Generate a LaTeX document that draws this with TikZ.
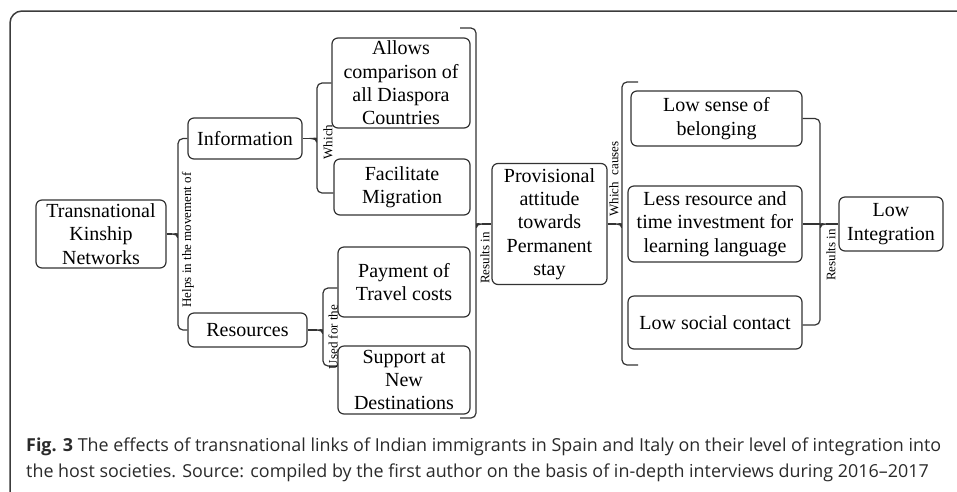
\documentclass[tikz,border=0pt]{standalone}
\usepackage{fontspec}
\setmainfont{Liberation Serif}
\newfontfamily\capfont{Open Sans}
\usetikzlibrary{calc}
\definecolor{boxc}{HTML}{333333}
\definecolor{framec}{HTML}{3C3C3C}
\definecolor{capc}{HTML}{2A2A2A}
\begin{document}
\begin{tikzpicture}[x=1pt,y=-1pt,
  box/.style={draw=boxc, line width=1.2pt, rounded corners=6pt, align=center, inner sep=0pt,
              font=\fontsize{20}{23.3}\selectfont, text=black},
  conn/.style={draw=boxc, line width=1.2pt},
  lab/.style={font=\fontsize{13}{15}\selectfont, rotate=90, inner sep=0pt, text=black},
  captext/.style={anchor=base west, inner sep=0pt, font=\capfont\fontsize{17.9}{20}\selectfont, text=capc}]

\useasboundingbox (0,0) rectangle (957,491);
\begin{scope}
\clip (0,0) rectangle (957,491);
\draw[draw=framec, line width=1.5pt, rounded corners=12pt] (10,11) rectangle (985,505);
\end{scope}

% nodes
\node[box, minimum width=130pt, minimum height=68pt] (tkn) at (101,234) {Transnational\\Kinship\\Networks};
\node[box, minimum width=114pt, minimum height=41pt] (info) at (245,138.5) {Information};
\node[box, minimum width=119pt, minimum height=34pt] (res) at (247.5,330) {Resources};
\node[box, minimum width=138pt, minimum height=90pt] (allows) at (401,83) {Allows\\comparison of\\all Diaspora\\Countries};
\node[box, minimum width=136pt, minimum height=56pt] (fac) at (402,187) {Facilitate\\Migration};
\node[box, minimum width=132pt, minimum height=70pt] (pay) at (404,282) {Payment of\\Travel costs};
\node[box, minimum width=132pt, minimum height=68pt] (sup) at (404,380) {Support at\\New\\Destinations};
\node[box, minimum width=115pt, minimum height=121pt] (prov) at (549.5,224) {Provisional\\attitude\\towards\\Permanent\\stay};
\node[box, minimum width=171pt, minimum height=55pt] (sense) at (716.5,118.5) {Low sense of\\belonging};
\node[box, minimum width=174pt, minimum height=76pt] (less) at (715,224) {Less resource and\\time investment for\\learning language};
\node[box, minimum width=174pt, minimum height=53pt] (social) at (715,322.5) {Low social contact};
\node[box, minimum width=104pt, minimum height=54pt] (lowint) at (891,224) {Low\\Integration};

% brace tips and free ends
\coordinate (t1) at (172,234);
\coordinate (t2) at (311,138.5);
\coordinate (t3) at (317,330);
\coordinate (t4) at (482,224);
\coordinate (t5) at (616,224);
\coordinate (t6) at (826,224);
\coordinate (h4a) at (460,28);
\coordinate (h4b) at (460,418);
\coordinate (h5a) at (638,82);
\coordinate (h5b) at (638,365);

% brace 1: Helps in the movement of
\draw[conn] (tkn.east) -- (t1);
\draw[conn] (info.west) [rounded corners=5pt] -- (178,138.5) -- (178,230) [sharp corners]
  .. controls (178,233) and (175,234) .. (t1)
  .. controls (175,234) and (178,235) .. (178,238) [rounded corners=5pt] -- (178,330) -- (res.west);

% brace 2: Which
\draw[conn] (info.east) -- (t2);
\draw[conn] (allows.west) [rounded corners=5pt] -- (317,83) -- (317,134.5) [sharp corners]
  .. controls (317,137.5) and (314,138.5) .. (t2)
  .. controls (314,138.5) and (317,139.5) .. (317,142.5) [rounded corners=5pt] -- (317,193) -- (fac.west |- 0,193);

% brace 3: Used for the
\draw[conn] (res.east) -- (t3);
\draw[conn] (pay.west |- 0,288) [rounded corners=5pt] -- (323,288) -- (323,326) [sharp corners]
  .. controls (323,329) and (320,330) .. (t3)
  .. controls (320,330) and (323,331) .. (323,334) [rounded corners=5pt] -- (323,366) -- (sup.west |- 0,366);

% brace 4: Results in (large)
\draw[conn] (t4) -- (prov.west);
\draw[conn] (h4a) [rounded corners=5pt] -- (476,28) -- (476,220) [sharp corners]
  .. controls (476,223) and (479,224) .. (t4)
  .. controls (479,224) and (476,225) .. (476,228) [rounded corners=5pt] -- (476,418) -- (h4b);

% brace 5: Which causes
\draw[conn] (prov.east) -- (t5);
\draw[conn] (h5a) [rounded corners=5pt] -- (622,82) -- (622,220) [sharp corners]
  .. controls (622,223) and (619,224) .. (t5)
  .. controls (619,224) and (622,225) .. (622,228) [rounded corners=5pt] -- (622,365) -- (h5b);

% brace 6: Results in (right)
\draw[conn] (less.east) -- (820,224);
\draw[conn] (t6) -- (lowint.west);
\draw[conn] (sense.east) [rounded corners=5pt] -- (820,118.5) -- (820,220) [sharp corners]
  .. controls (820,223) and (823,224) .. (t6)
  .. controls (823,224) and (820,225) .. (820,228) [rounded corners=5pt] -- (820,325) -- (social.east |- 0,325);

% labels
\node[lab] (l1) at (188,240) {Helps in the movement of};
\node[lab] (l2) at (328,142) {Which};
\node[lab] (l3) at (333,337) {Used for the};
\node[lab] (l4) at (485,258) {Results in};
\node[lab] (l5) at (614,179) {Which\ \ causes};
\node[lab] (l6) at (831,255) {Results in};

% caption
\node[captext] (cap1) at (26,451) {\textbf{Fig. 3} The effects of transnational links of Indian immigrants in Spain and Italy on their level of integration into};
\node[captext] (cap2) at (26,477) {the host societies. Source: compiled by the first author on the basis of in-depth interviews during 2016–2017};
\end{tikzpicture}
\end{document}
